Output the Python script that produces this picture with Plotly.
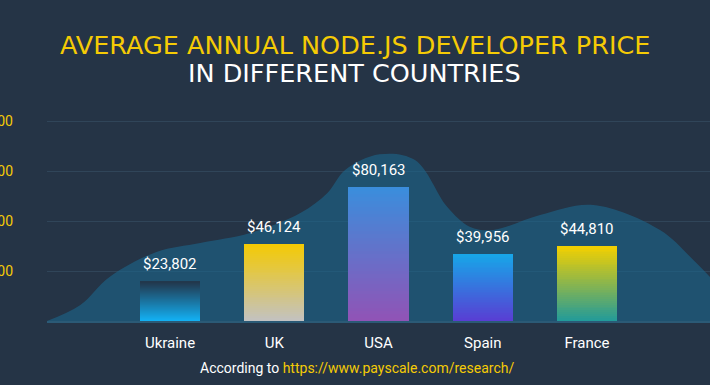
import plotly.graph_objects as go

# ---- data ----
countries = ["Ukraine", "UK", "USA", "Spain", "France"]
salaries = [23802, 46124, 80163, 39956, 44810]
salary_labels = ["$23,802", "$46,124", "$80,163", "$39,956", "$44,810"]
# gradient colours per bar: (top, bottom)
grad_top = ["#22364b", "#f4ca03", "#3a8edc", "#17a6e8", "#f3d000"]
grad_bottom = ["#12b5fa", "#c2c2c4", "#9153b6", "#5a3cd3", "#1f9a9c"]
# decorative background wave (category index units, salary units)
wave_x = [-1.18, -0.86, -0.58, -0.13, 0.29, 0.77, 1.25, 1.51, 1.68, 2.01, 2.35,
          2.66, 2.88, 3.10, 3.55, 4.06, 4.70, 5.02, 5.18]
wave_y = [0, 9600, 26400, 41400, 46800, 52800, 64800, 76800, 90600, 100000, 96600,
          68400, 56400, 54600, 63600, 69600, 54600, 36600, 26400]
y_ticks = [30000, 60000, 90000, 120000]

BG = "#253446"
GOLD = "#f5cb05"
FONT = "Roboto"
TITLE_FONT = "DejaVu Sans"
X_RANGE = [-1.18, 5.18]
Y_RANGE = [0, 126600]

pos = list(range(len(countries)))


def hex2rgb(h):
    h = h.lstrip("#")
    return tuple(int(h[i:i + 2], 16) for i in (0, 2, 4))


def mix(c1, c2, t):
    a, b = hex2rgb(c1), hex2rgb(c2)
    return "rgb(%d,%d,%d)" % tuple(round(a[i] + (b[i] - a[i]) * t) for i in range(3))


fig = go.Figure()

# background wave (base subplot)
fig.add_trace(go.Scatter(
    x=wave_x, y=wave_y, mode="lines", line=dict(shape="spline", width=0, smoothing=1.0),
    fill="tozeroy", fillcolor="rgba(28,102,138,0.62)", hoverinfo="skip", showlegend=False,
    xaxis="x", yaxis="y",
))

# gradient bars as stacked slices (overlay subplot, drawn above the wave)
N = 40
for k in range(N):
    t = 1 - (k + 0.5) / N  # k=0 bottom -> bottom colour
    colors = [mix(grad_top[i], grad_bottom[i], t) for i in range(len(countries))]
    fig.add_trace(go.Bar(
        x=pos, y=[v / N for v in salaries], width=0.576,
        marker=dict(color=colors, line=dict(width=0)),
        hoverinfo="skip", showlegend=False, xaxis="x2", yaxis="y2",
    ))

annotations = [
    dict(x=p, y=v, xref="x2", yref="y2", text=lab, showarrow=False,
         xanchor="center", yanchor="bottom", yshift=6,
         font=dict(family=FONT, size=15, color="#ffffff"))
    for p, v, lab in zip(pos, salaries, salary_labels)
]
annotations += [
    dict(xref="paper", yref="paper", x=0.464, y=1.308, xanchor="center", yanchor="middle",
         text="AVERAGE ANNUAL NODE.JS DEVELOPER PRICE", showarrow=False,
         font=dict(family=TITLE_FONT, size=25.5, color=GOLD)),
    dict(xref="paper", yref="paper", x=0.464, y=1.175, xanchor="center", yanchor="middle",
         text="IN DIFFERENT COUNTRIES", showarrow=False,
         font=dict(family=TITLE_FONT, size=25.5, color="#ffffff")),
    dict(xref="paper", yref="paper", x=0.467, y=-0.223, xanchor="center", yanchor="middle",
         text="According to <span style='color:%s'>https://www.payscale.com/research/</span>" % GOLD,
         showarrow=False, font=dict(family=FONT, size=14, color="#ffffff")),
]

fig.update_layout(
    width=710, height=385,
    margin=dict(l=47, r=0, t=110, b=64),
    paper_bgcolor=BG, plot_bgcolor=BG,
    barmode="stack",
    font=dict(family=FONT),
    xaxis=dict(
        range=X_RANGE, tickvals=pos, ticktext=countries,
        showgrid=False, zeroline=False, automargin=False,
        showline=True, linecolor="#2b5a76", linewidth=2,
        ticks="", ticklabelstandoff=7,
        tickfont=dict(family=FONT, size=15, color="#ffffff"),
    ),
    yaxis=dict(
        range=Y_RANGE, tickvals=y_ticks, tickformat="$,.0f",
        showgrid=True, gridcolor="#304559", gridwidth=1, zeroline=False,
        automargin=False, ticks="", ticklabelstandoff=33,
        tickfont=dict(family=FONT, size=14, color=GOLD),
    ),
    xaxis2=dict(range=X_RANGE, overlaying="x", visible=False, showgrid=False, zeroline=False),
    yaxis2=dict(range=Y_RANGE, overlaying="y", visible=False, showgrid=False, zeroline=False),
    annotations=annotations,
)

fig.write_html("out.html", config={"displayModeBar": False},
               post_script="document.body.style.margin='0';document.body.style.overflow='hidden';")
